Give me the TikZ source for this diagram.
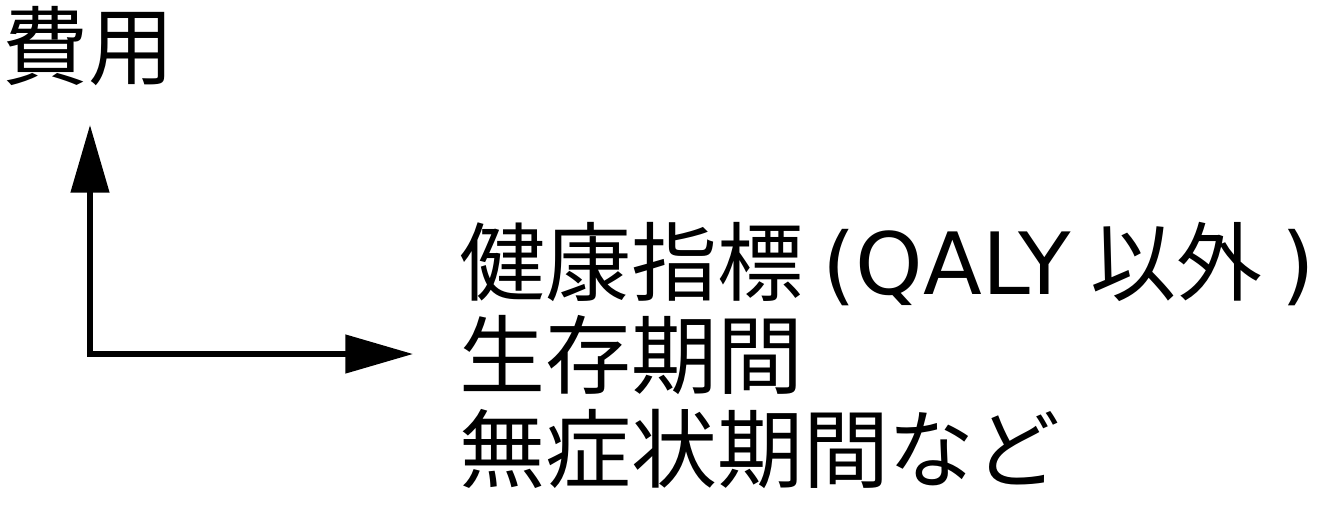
\documentclass[tikz,border=0pt]{standalone}
\usepackage{fontspec}
\newfontfamily\jpfont{Noto Sans CJK JP}
\newfontfamily\latfont{DejaVu Sans}
\usetikzlibrary{positioning}
\usetikzlibrary{arrows.meta}
\tikzset{>={Triangle[length=38.5pt,width=21.5pt]}}

\begin{document}
\begin{tikzpicture}
	[x=0.02cm,y=-0.02cm,
	txt/.style={inner sep=0pt,anchor=base west,font=\jpfont\fontsize{48.9pt}{58pt}\selectfont},
	axisline/.style={line width=3pt,<->}]
	\useasboundingbox (0,0) rectangle (1329,512);
	\node [txt] (cost) at (2,78) {費用};
	\coordinate (O) at (90,354);
	\coordinate (ytip) at (90,125);
	\coordinate (xtip) at (413,354);
	\draw[axisline] (ytip) -- (O) -- (xtip);
	\node [txt] (health) at (459,294) {健康指標 {\latfont (QALY} 以外 {\latfont )}};
	\node [txt] (survival) [below=1.88cm of health.base west,anchor=base west] {生存期間};
	\node [txt] (symfree) [below=1.88cm of survival.base west,anchor=base west] {無症状期間など};
\end{tikzpicture}
\end{document}
